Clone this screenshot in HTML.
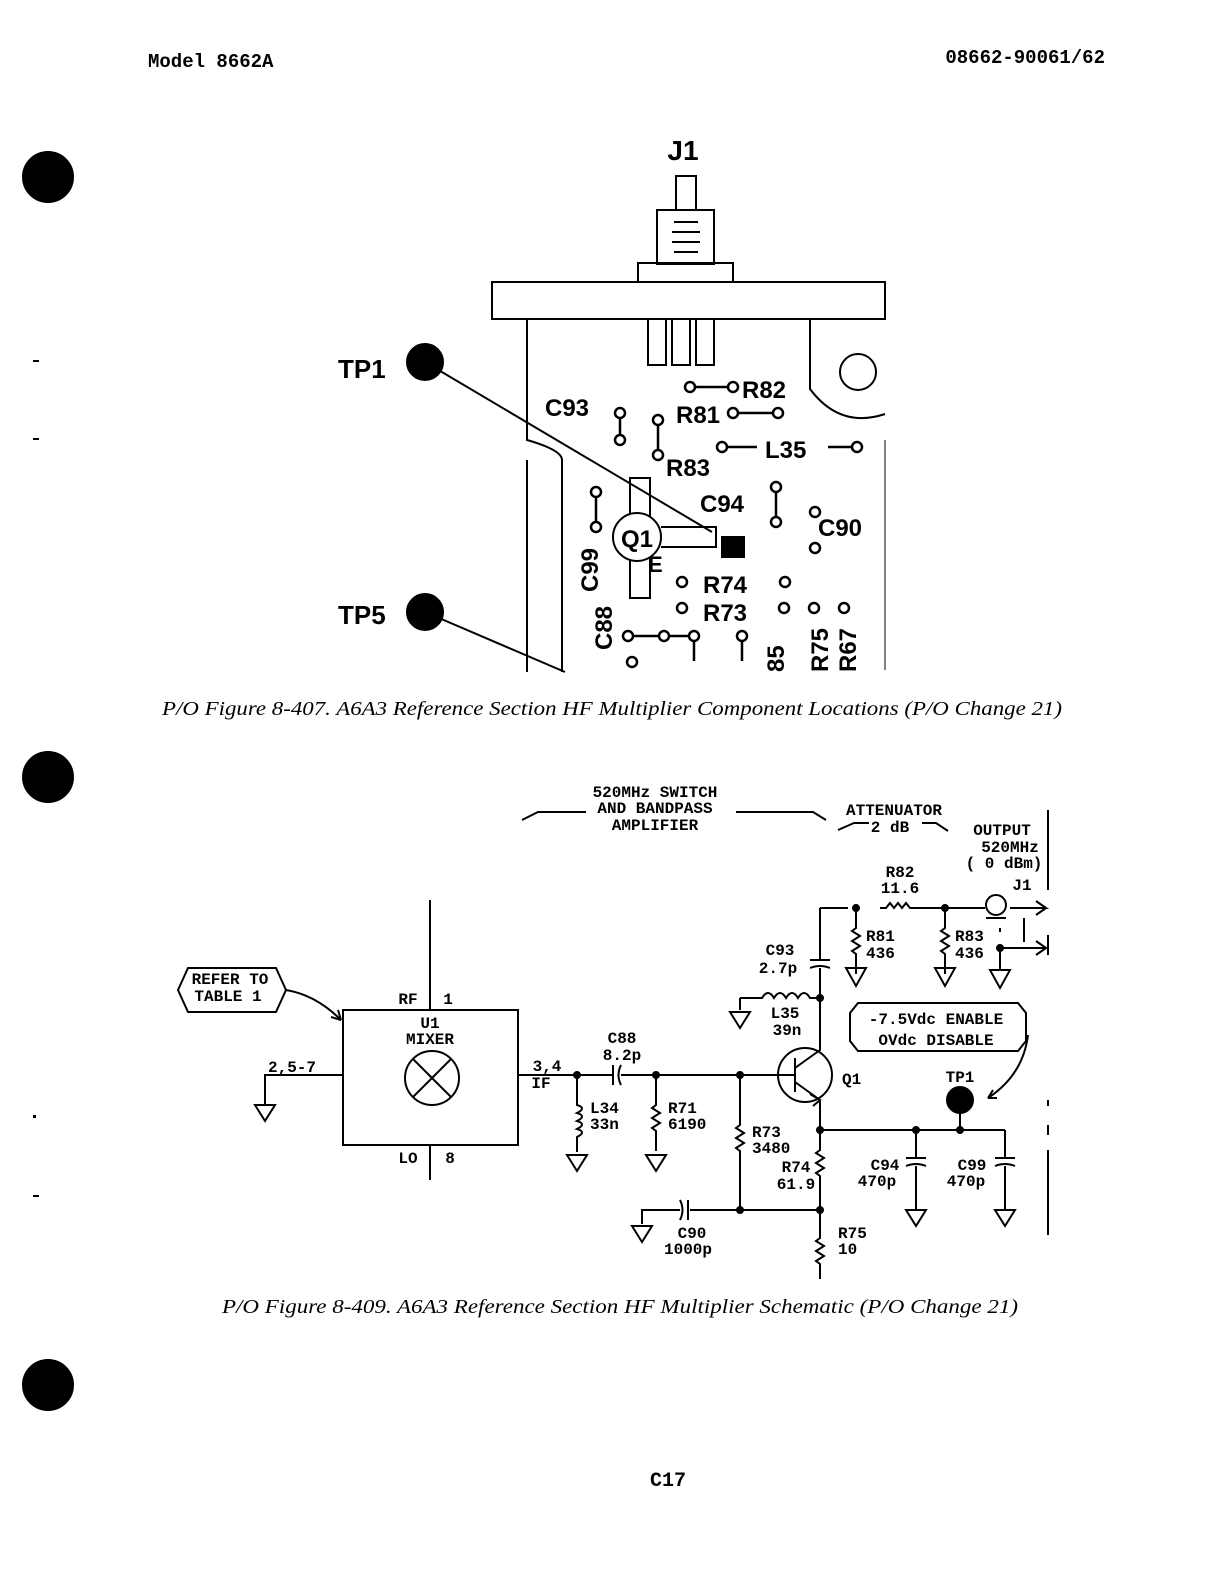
<!DOCTYPE html>
<html><head><meta charset="utf-8"><style>
html,body{margin:0;padding:0;background:#fff}
svg{display:block}
.m{font-family:"Liberation Mono",monospace}
.s{font-family:"Liberation Sans",sans-serif;font-weight:bold}
.c{font-family:"Liberation Serif",serif;font-style:italic}
</style></head><body>
<svg width="1229" height="1584" viewBox="0 0 1229 1584" xmlns="http://www.w3.org/2000/svg" stroke="#000" fill="none" stroke-width="2">
<text x="148" y="67" class="m" font-size="19" font-weight="bold" fill="#000" stroke="none">Model 8662A</text>
<text x="1105" y="63" class="m" font-size="19" font-weight="bold" fill="#000" stroke="none" text-anchor="end">08662-90061/62</text>
<circle cx="48" cy="177" r="25" fill="#000"/>
<circle cx="48" cy="777" r="25" fill="#000"/>
<circle cx="48" cy="1385" r="25" fill="#000"/>
<g fill="#000" stroke="none"><rect x="33" y="360" width="6" height="2"/><rect x="33" y="438" width="6" height="2"/><rect x="33" y="1195" width="6" height="2"/><rect x="33" y="1115" width="3" height="3"/></g>

<!-- top figure -->
<text x="683" y="160" class="s" font-size="28" fill="#000" stroke="none" text-anchor="middle">J1</text>
<rect x="676" y="176" width="20" height="34"/>
<rect x="657" y="210" width="57" height="54"/>
<path d="M674 222h24M672 232h28M672 242h28M674 252h24"/>
<rect x="638" y="263" width="95" height="19"/>
<rect x="492" y="282" width="393" height="37"/>
<rect x="648" y="319" width="18" height="46"/><rect x="672" y="319" width="18" height="46"/><rect x="696" y="319" width="18" height="46"/>
<path d="M527 319V440q35 10 35 20v212M527 460V672"/>
<path d="M810 319v70q30 40 75 25"/>
<circle cx="858" cy="372" r="18"/>
<path d="M885 440v230" stroke-width="1"/>
<circle cx="425" cy="362" r="18" fill="#000"/><line x1="425" y1="362" x2="712" y2="532"/>
<circle cx="425" cy="612" r="18" fill="#000"/><line x1="425" y1="612" x2="565" y2="672"/>
<text x="338" y="378" class="s" font-size="26" fill="#000" stroke="none">TP1</text>
<text x="338" y="624" class="s" font-size="26" fill="#000" stroke="none">TP5</text>
<g class="s" font-size="24" fill="#000" stroke="none">
<text x="545" y="416">C93</text><text x="742" y="398">R82</text><text x="676" y="423">R81</text>
<text x="765" y="458">L35</text><text x="666" y="476">R83</text><text x="700" y="512">C94</text>
<text x="818" y="536">C90</text><text x="648" y="572" font-size="22">E</text>
<text x="703" y="593">R74</text><text x="703" y="621">R73</text>
<text transform="translate(598,592) rotate(-90)">C99</text>
<text transform="translate(612,650) rotate(-90)">C88</text>
<text transform="translate(784,672) rotate(-90)">85</text>
<text transform="translate(828,672) rotate(-90)">R75</text>
<text transform="translate(856,672) rotate(-90)">R67</text>
</g>
<g stroke-width="2.5">
<circle cx="690" cy="387" r="5"/><circle cx="733" cy="387" r="5"/><path d="M695 387h33"/>
<circle cx="733" cy="413" r="5"/><circle cx="778" cy="413" r="5"/><path d="M738 413h35"/>
<circle cx="620" cy="413" r="5"/><circle cx="620" cy="440" r="5"/><path d="M620 418v17"/>
<circle cx="658" cy="420" r="5"/><circle cx="658" cy="455" r="5"/><path d="M658 425v25"/>
<circle cx="722" cy="447" r="5"/><path d="M727 447h30"/><circle cx="857" cy="447" r="5"/><path d="M828 447h24"/>
<circle cx="596" cy="492" r="5"/><circle cx="596" cy="527" r="5"/><path d="M596 497v25"/>
<circle cx="776" cy="487" r="5"/><circle cx="776" cy="522" r="5"/><path d="M776 492v25"/>
<circle cx="815" cy="512" r="5"/><circle cx="815" cy="548" r="5"/>
<circle cx="682" cy="582" r="5"/><circle cx="682" cy="608" r="5"/><circle cx="785" cy="582" r="5"/>
<circle cx="784" cy="608" r="5"/><circle cx="814" cy="608" r="5"/><circle cx="844" cy="608" r="5"/>
<circle cx="628" cy="636" r="5"/><circle cx="664" cy="636" r="5"/><circle cx="694" cy="636" r="5"/><path d="M633 636h26M669 636h20"/>
<circle cx="632" cy="662" r="5"/><path d="M694 641v20"/><circle cx="742" cy="636" r="5"/><path d="M742 641v20"/>
</g>
<rect x="630" y="478" width="20" height="120"/>
<circle cx="637" cy="537" r="24" fill="#fff"/>
<text x="637" y="547" class="s" font-size="24" fill="#000" stroke="none" text-anchor="middle">Q1</text>
<path d="M661 527h55v20h-55"/><rect x="722" y="537" width="22" height="20" fill="#000"/>
<text x="162" y="715" class="c" font-size="20" fill="#000" stroke="none" textLength="900" lengthAdjust="spacingAndGlyphs">P/O Figure 8-407.  A6A3 Reference Section HF Multiplier Component Locations (P/O Change 21)</text>

<!-- schematic -->
<g class="m" font-weight="bold" fill="#000" stroke="none" font-size="16">
<text x="655" y="797" text-anchor="middle">520MHz SWITCH</text>
<text x="655" y="813" text-anchor="middle">AND BANDPASS</text>
<text x="655" y="830" text-anchor="middle">AMPLIFIER</text>
<text x="894" y="815" text-anchor="middle">ATTENUATOR</text>
<text x="890" y="832" text-anchor="middle">2 dB</text>
<text x="1002" y="835" text-anchor="middle">OUTPUT</text>
<text x="1010" y="852" text-anchor="middle">520MHz</text>
<text x="1004" y="868" text-anchor="middle">( 0 dBm)</text>
<text x="900" y="877" text-anchor="middle">R82</text><text x="900" y="893" text-anchor="middle">11.6</text>
<text x="1022" y="890" text-anchor="middle">J1</text>
<text x="780" y="955" text-anchor="middle">C93</text><text x="778" y="973" text-anchor="middle">2.7p</text>
<text x="866" y="941">R81</text><text x="866" y="958">436</text>
<text x="955" y="941">R83</text><text x="955" y="958">436</text>
<text x="785" y="1018" text-anchor="middle">L35</text><text x="787" y="1035" text-anchor="middle">39n</text>
<text x="936" y="1024" text-anchor="middle">-7.5Vdc ENABLE</text>
<text x="936" y="1045" text-anchor="middle">OVdc DISABLE</text>
<text x="842" y="1084">Q1</text><text x="960" y="1082" text-anchor="middle">TP1</text>
<text x="230" y="984" text-anchor="middle">REFER TO</text><text x="228" y="1001" text-anchor="middle">TABLE 1</text>
<text x="408" y="1004" text-anchor="middle">RF</text><text x="448" y="1004" text-anchor="middle">1</text>
<text x="430" y="1028" text-anchor="middle">U1</text><text x="430" y="1044" text-anchor="middle">MIXER</text>
<text x="408" y="1163" text-anchor="middle">LO</text><text x="450" y="1163" text-anchor="middle">8</text>
<text x="292" y="1072" text-anchor="middle">2,5-7</text>
<text x="547" y="1071" text-anchor="middle">3,4</text><text x="541" y="1088" text-anchor="middle">IF</text>
<text x="622" y="1043" text-anchor="middle">C88</text><text x="622" y="1060" text-anchor="middle">8.2p</text>
<text x="590" y="1113">L34</text><text x="590" y="1129">33n</text>
<text x="668" y="1113">R71</text><text x="668" y="1129">6190</text>
<text x="752" y="1137">R73</text><text x="752" y="1153">3480</text>
<text x="796" y="1172" text-anchor="middle">R74</text><text x="796" y="1189" text-anchor="middle">61.9</text>
<text x="885" y="1170" text-anchor="middle">C94</text><text x="877" y="1186" text-anchor="middle">470p</text>
<text x="972" y="1170" text-anchor="middle">C99</text><text x="966" y="1186" text-anchor="middle">470p</text>
<text x="692" y="1238" text-anchor="middle">C90</text><text x="688" y="1254" text-anchor="middle">1000p</text>
<text x="838" y="1238">R75</text><text x="838" y="1254">10</text>
<text x="668" y="1486" font-size="20" text-anchor="middle">C17</text>
</g>
<path d="M522 820l16-8h48M736 812h77l13 8M838 830l16-7h15M922 823h14l12 8" />
<path d="M1048 810v80M1048 935v20M1048 1100v6M1048 1125v10M1048 1150v85"/>
<path d="M820 908h28M880 908h6l4-5 4 5 4-5 4 5 4-5 4 5h40M945 908h40M1010 908h36l-10-7M1046 908l-10 7"/>
<circle cx="996" cy="905" r="10"/><path d="M986 918h20"/>
<path d="M1000 948h46l-10-7M1046 948l-10 7M1000 928v4M1024 918v24"/>
<circle cx="856" cy="908" r="3" fill="#000"/><circle cx="945" cy="908" r="3" fill="#000"/><circle cx="1000" cy="948" r="3" fill="#000"/>
<path d="M856 908v20l-4 3 8 5-8 5 8 5-8 5 4 3v20M846 968h20l-10 18z"/>
<path d="M945 908v20l-4 3 8 5-8 5 8 5-8 5 4 3v20M935 968h20l-10 18z"/>
<path d="M1000 948v22M990 970h20l-10 18z"/>
<path d="M820 908v52M810 960h20M810 968q10-4 20 0M820 968v30"/>
<circle cx="820" cy="998" r="3" fill="#000"/>
<path d="M740 998h22q6-10 12 0q6-10 12 0q6-10 12 0q6-10 12 0h10M740 998v12M730 1012h20l-10 16z"/>
<path d="M820 998v30"/>
<circle cx="805" cy="1075" r="27"/>
<path d="M795 1058v34M795 1075h-60M795 1068l25-18v-22M795 1082l25 18v30M810 1094l10 6-7 6"/>
<path d="M850 1013l8-10h160l8 10v28l-8 10h-160l-8-10z"/>
<path d="M1028 1035q-5 40-40 63l5-8M988 1098l9 0"/>
<circle cx="960" cy="1100" r="13" fill="#000"/>
<path d="M820 1130h185M960 1100v30"/>
<circle cx="820" cy="1130" r="3" fill="#000"/><circle cx="916" cy="1130" r="3" fill="#000"/><circle cx="960" cy="1130" r="3" fill="#000"/>
<path d="M916 1130v28M906 1158h20M906 1166q10-4 20 0M916 1166v44M906 1210h20l-10 16z"/>
<path d="M1005 1130v28M995 1158h20M995 1166q10-4 20 0M1005 1166v44M995 1210h20l-10 16z"/>
<path d="M820 1130v20l-4 3 8 5-8 5 8 5-8 5 4 3v62l-4 3 8 5-8 5 8 5-8 5 4 3v15"/>
<circle cx="820" cy="1210" r="3" fill="#000"/>
<path d="M430 900v110M430 1145v35"/>
<rect x="343" y="1010" width="175" height="135"/>
<circle cx="432" cy="1078" r="27"/><path d="M413 1059l38 38M451 1059l-38 38"/>
<path d="M178 990l10-22h88l10 22-10 22h-88z"/>
<path d="M286 990q30 5 55 30l-10-3M341 1020l-3-10"/>
<path d="M343 1075h-78v30M255 1105h20l-10 16z"/>
<path d="M518 1075h95M613 1065v20M621 1065q-5 10 0 20M621 1075h160"/>
<circle cx="577" cy="1075" r="3" fill="#000"/><circle cx="656" cy="1075" r="3" fill="#000"/><circle cx="740" cy="1075" r="3" fill="#000"/>
<path d="M577 1075v30q10 3 0 8q10 3 0 8q10 3 0 8q10 3 0 8v15M567 1155h20l-10 16z"/>
<path d="M656 1075v30l-4 3 8 5-8 5 8 5-8 5 4 3v20M646 1155h20l-10 16z"/>
<path d="M740 1075v50l-4 3 8 5-8 5 8 5-8 5 4 3v62"/>
<circle cx="740" cy="1210" r="3" fill="#000"/>
<path d="M820 1210h-130M688 1200v20M680 1200q5 10 0 20M680 1210h-38v14M632 1226h20l-10 16z"/>
<text x="222" y="1313" class="c" font-size="20" fill="#000" stroke="none" textLength="796" lengthAdjust="spacingAndGlyphs">P/O Figure 8-409.  A6A3 Reference Section HF Multiplier Schematic (P/O Change 21)</text>
</svg>
</body></html>
